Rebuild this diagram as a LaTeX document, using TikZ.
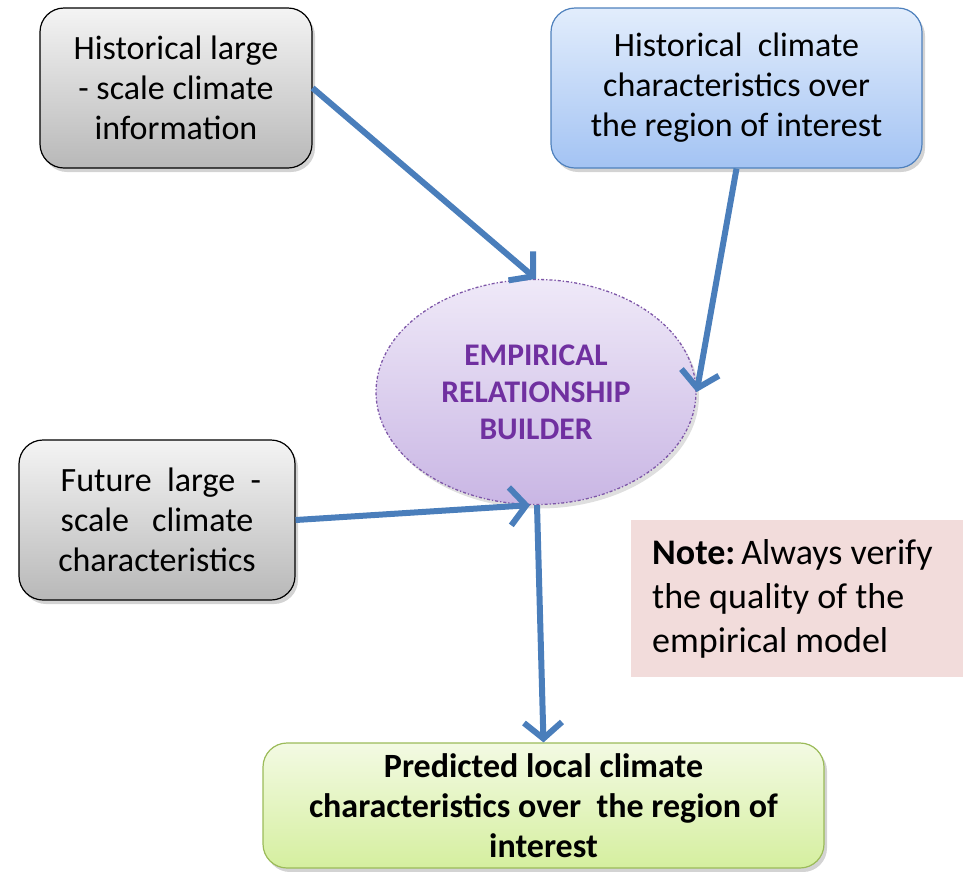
\documentclass[tikz,border=0pt]{standalone}
\usepackage{fontspec}
\setmainfont{Carlito}
\usetikzlibrary{shapes.geometric,arrows.meta,shadows}
\definecolor{arrowblue}{HTML}{4A7EBB}
\definecolor{greytop}{HTML}{F4F4F4}
\definecolor{greybot}{HTML}{B8B8B8}
\definecolor{bluetop}{HTML}{E2EDFC}
\definecolor{bluebot}{HTML}{A3C3F3}
\definecolor{blueline}{HTML}{4F81BD}
\definecolor{purptop}{HTML}{EFE9F8}
\definecolor{purpbot}{HTML}{C9B6E4}
\definecolor{purpline}{HTML}{7E57A8}
\definecolor{purptext}{HTML}{7030A0}
\definecolor{greentop}{HTML}{F3FAE3}
\definecolor{greenbot}{HTML}{D5EF9F}
\definecolor{greenline}{HTML}{9BBB59}
\definecolor{notefill}{HTML}{F2DCDB}
\tikzset{
  x=1pt,y=1pt,
  basebox/.style={rectangle, rounded corners=24pt, align=center, inner sep=2pt,
    font=\fontsize{34}{40}\selectfont, line width=1.2pt,
    drop shadow={shadow xshift=3pt, shadow yshift=-4pt, opacity=0.35}},
  greybox/.style={basebox, draw=black, top color=greytop, bottom color=greybot},
  bluebox/.style={basebox, draw=blueline, top color=bluetop, bottom color=bluebot},
  greenbox/.style={basebox, draw=greenline, top color=greentop, bottom color=greenbot,
    font=\fontsize{34}{40}\selectfont\bfseries},
  empnode/.style={ellipse, draw=purpline, line width=1.3pt, dash dot,
    top color=purptop, bottom color=purpbot, align=center,
    font=\fontsize{31.5}{37}\selectfont\bfseries, text=purptext,
    drop shadow={shadow xshift=3pt, shadow yshift=-4pt, opacity=0.25}},
  notebox/.style={rectangle, fill=notefill, align=flush left, inner xsep=21pt,
    inner ysep=0pt, font=\fontsize{36}{44}\selectfont},
  flow/.style={draw=arrowblue, line width=6pt,
    -{Straight Barb[length=16pt, width=38pt, line width=6pt]}}
}
\begin{document}
\begin{tikzpicture}
\useasboundingbox (0,0) rectangle (963,-871);
\node[greybox, minimum width=272, minimum height=160] (hist) at (176,-88)
  {Historical large\\- scale climate\\information};
\node[bluebox, minimum width=371, minimum height=160] (histc) at (736.5,-88)
  {Historical\ \ climate\\characteristics over\\the region of interest};
\node[greybox, minimum width=276, minimum height=160] (fut) at (157,-520)
  {\ Future\ \ large\ \ -\\scale\ \ \ climate\\characteristics};
\node[empnode, minimum width=320, minimum height=225, inner sep=0pt] (emp) at (536,-392)
  {EMPIRICAL\\RELATIONSHIP\\BUILDER};
\node[notebox, anchor=west, minimum height=157, text width=300] (note) at (631,-598.5)
  {\textbf{Note:}\,Always verify\\the quality of the\\empirical model};
\node[greenbox, minimum width=561, minimum height=125] (pred) at (543.5,-805.5)
  {Predicted local climate\\characteristics over\ \ the region of\\interest};
\draw[flow] (hist.east) -- (emp.north);
\draw[flow] (histc.south) -- (emp.east);
\draw[flow] (fut.east) -- ([xshift=-6pt]emp.south);
\draw[flow] ([xshift=1pt]emp.south) -- (pred.north);
\end{tikzpicture}
\end{document}
